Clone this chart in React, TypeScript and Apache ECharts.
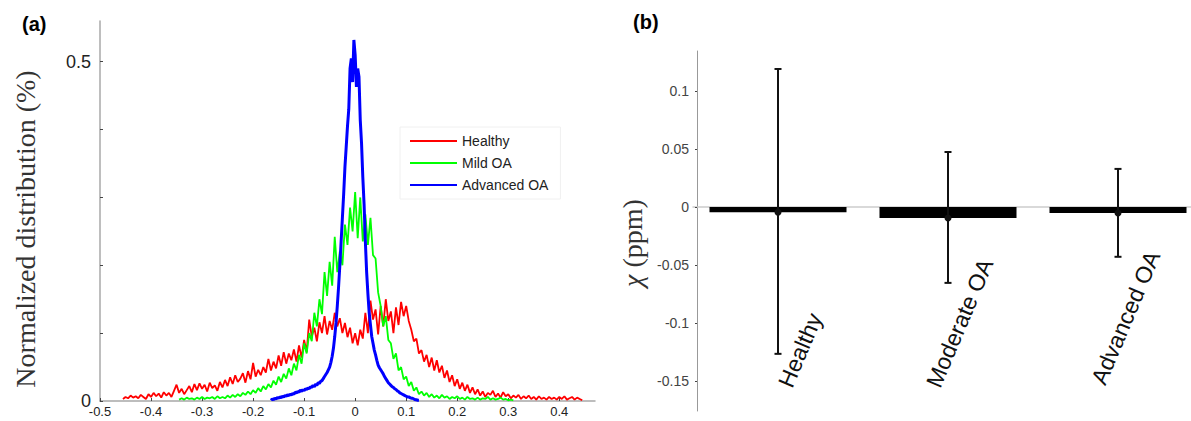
import React, { useEffect, useRef } from 'react';
import * as echarts from 'echarts';

// ---------- Panel (a): normalized susceptibility distributions ----------
const healthyStart = -0.455;
const healthyStep = 0.005;
const healthy = [
  0.003, 0.006, 0.004, 0.008, 0.005, 0.007, 0.004, 0.009, 0.006, 0.003,
  0.01, 0.006, 0.012, 0.007, 0.011, 0.005, 0.013, 0.008, 0.012, 0.006,
  0.015, 0.024, 0.012, 0.018, 0.01, 0.016, 0.022, 0.013, 0.025, 0.016,
  0.026, 0.018, 0.024, 0.014, 0.027, 0.019, 0.023, 0.015, 0.028, 0.02,
  0.031, 0.022, 0.035, 0.025, 0.038, 0.028, 0.033, 0.041, 0.027, 0.044,
  0.032, 0.056, 0.036, 0.046, 0.038, 0.05, 0.042, 0.062, 0.045, 0.058,
  0.048, 0.067, 0.052, 0.072, 0.055, 0.07, 0.06, 0.076, 0.058, 0.082,
  0.064, 0.09, 0.072, 0.12, 0.095, 0.108, 0.088, 0.116, 0.1, 0.125,
  0.098, 0.118, 0.105, 0.13, 0.11, 0.122, 0.1, 0.115, 0.094, 0.108,
  0.085, 0.1, 0.082, 0.105, 0.092, 0.13, 0.1, 0.148, 0.12, 0.135,
  0.098, 0.14, 0.11, 0.15, 0.118, 0.132, 0.1, 0.138, 0.112, 0.146,
  0.125, 0.14, 0.118, 0.105, 0.088, 0.092, 0.07, 0.075, 0.058, 0.068,
  0.05, 0.064, 0.045, 0.06, 0.042, 0.052, 0.034, 0.045, 0.028, 0.038,
  0.022, 0.032, 0.018, 0.027, 0.015, 0.024, 0.012, 0.02, 0.01, 0.017,
  0.008, 0.014, 0.006, 0.012, 0.009, 0.015, 0.006, 0.011, 0.005, 0.013,
  0.007, 0.01, 0.004, 0.008, 0.005, 0.009, 0.003, 0.007, 0.004, 0.008,
  0.003, 0.006, 0.002, 0.007, 0.003, 0.005, 0.002, 0.006, 0.003, 0.005,
  0.002, 0.006, 0.003, 0.007, 0.002, 0.004, 0.006, 0.002, 0.005, 0.003,
  0.001,
];

const mildStart = -0.345;
const mildStep = 0.005;
const mildOA = [
  0.002, 0.004, 0.002, 0.005, 0.003, 0.004, 0.002, 0.005, 0.003, 0.006,
  0.003, 0.005, 0.004, 0.006, 0.003, 0.007, 0.004, 0.006, 0.004, 0.008,
  0.005, 0.009, 0.006, 0.01, 0.007, 0.012, 0.009, 0.014, 0.01, 0.016,
  0.012, 0.019, 0.014, 0.022, 0.017, 0.025, 0.02, 0.03, 0.024, 0.036,
  0.028, 0.04, 0.033, 0.048, 0.038, 0.055, 0.045, 0.068, 0.055, 0.085,
  0.07, 0.1, 0.088, 0.13, 0.11, 0.15, 0.128, 0.19, 0.155, 0.205,
  0.17, 0.242, 0.19, 0.22, 0.2, 0.26, 0.23, 0.285, 0.25, 0.308,
  0.24, 0.3, 0.235, 0.275, 0.23, 0.27, 0.215, 0.21, 0.16, 0.14,
  0.11, 0.125, 0.09, 0.085, 0.062, 0.07, 0.045, 0.05, 0.032, 0.036,
  0.022, 0.028, 0.015, 0.02, 0.01, 0.014, 0.008, 0.012, 0.006, 0.01,
  0.005, 0.008, 0.004, 0.009, 0.005, 0.007, 0.003, 0.006, 0.004, 0.007,
  0.003, 0.005, 0.002, 0.006, 0.003, 0.004, 0.002, 0.005, 0.002, 0.004,
  0.003, 0.006, 0.002, 0.004, 0.002, 0.003, 0.005, 0.002, 0.003, 0.001,
  0.002, 0.001,
];

const advancedStart = -0.165;
const advancedStep = 0.0025;
const advancedOA = [
  0.001, 0.003, 0.002, 0.004, 0.003, 0.005, 0.004, 0.006, 0.005, 0.007,
  0.006, 0.008, 0.007, 0.009, 0.008, 0.01, 0.009, 0.011, 0.01, 0.013,
  0.012, 0.014, 0.013, 0.016, 0.014, 0.017, 0.015, 0.018, 0.017, 0.019,
  0.018, 0.021, 0.02, 0.023, 0.021, 0.025, 0.023, 0.027, 0.026, 0.029,
  0.03, 0.033, 0.036, 0.039, 0.042, 0.046, 0.05, 0.057, 0.066, 0.078,
  0.095, 0.115, 0.14, 0.168, 0.2, 0.235, 0.27, 0.305, 0.345, 0.375,
  0.405, 0.43, 0.49, 0.505, 0.47, 0.532, 0.51, 0.463, 0.49, 0.478,
  0.414, 0.38, 0.33, 0.29, 0.235, 0.19, 0.158, 0.13, 0.112, 0.095,
  0.085, 0.075, 0.068, 0.06, 0.053, 0.049, 0.046, 0.043, 0.04, 0.036,
  0.033, 0.03, 0.027, 0.025, 0.023, 0.021, 0.02, 0.018, 0.017, 0.015,
  0.014, 0.012, 0.011, 0.01, 0.009, 0.008, 0.007, 0.006, 0.006, 0.005,
  0.004, 0.004, 0.003, 0.002, 0.002, 0.001, 0.001,
];

const seriesNames = ['Healthy', 'Mild OA', 'Advanced OA'];

// ---------- Panel (b): mean susceptibility with error bars ----------
const groups = ['Healthy', 'Moderate OA', 'Advanced OA'];
const chiMean = [-0.0045, -0.0095, -0.0052];
const chiLow = [-0.1267, -0.0655, -0.043];
const chiHigh = [0.119, 0.0474, 0.0328];

// rotated category label placement (offset from category centre, baseline-start y)
const labelShiftX = [7, -15, -20];
const labelBaseY = [386, 386, 383];

const SANS = 'Arial, "Liberation Sans", Helvetica, sans-serif';
const SERIF = '"Liberation Serif", "Times New Roman", "DejaVu Serif", serif';

function toPairs(start: number, step: number, vals: number[]) {
  return vals.map((v, i) => [+(start + i * step).toFixed(4), v]);
}

function staticGraphic(): any[] {
  return [
    { id: 'ta', type: 'text', left: 22, top: 14, style: { text: '(a)', fontSize: 20, fontWeight: 'bold', fontFamily: SANS, fill: '#000' } },
    { id: 'tb', type: 'text', left: 633, top: 12, style: { text: '(b)', fontSize: 20, fontWeight: 'bold', fontFamily: SANS, fill: '#000' } },
    {
      id: 'ya',
      type: 'text',
      x: 25,
      y: 229,
      rotation: Math.PI / 2,
      style: {
        text: 'Normalized distribution (%)',
        fontSize: 28,
        fontFamily: SERIF,
        fill: '#333',
        align: 'center',
        verticalAlign: 'middle',
      },
    },
    {
      id: 'yb',
      type: 'text',
      x: 632,
      y: 243,
      rotation: Math.PI / 2,
      style: {
        text: '{i|χ} (ppm)',
        fontSize: 28,
        fontFamily: SERIF,
        fill: '#333',
        align: 'center',
        verticalAlign: 'middle',
        rich: { i: { fontStyle: 'italic', fontSize: 28, fontFamily: SERIF, fill: '#333' } },
      },
    },
  ];
}

function buildOption(): any {
  const errData = groups.map((_, i) => [i, chiLow[i], chiHigh[i], chiMean[i]]);
  return {
    animation: false,
    backgroundColor: '#ffffff',
    textStyle: { fontFamily: SANS },
    legend: {
      data: seriesNames,
      orient: 'vertical',
      left: 400,
      top: 127,
      icon: 'rect',
      itemWidth: 47,
      itemHeight: 2,
      itemGap: 8,
      padding: [7, 12, 7, 10],
      borderColor: '#f0f0f0',
      borderWidth: 1,
      selectedMode: false,
      textStyle: { fontSize: 14, color: '#222', lineHeight: 14, fontFamily: SANS },
    },
    grid: [
      { left: 100, top: 21, width: 495, height: 380, outerBoundsMode: 'none', containLabel: false },
      { left: 693, top: 51, width: 510, height: 360, outerBoundsMode: 'none', containLabel: false },
    ],
    xAxis: [
      {
        gridIndex: 0,
        type: 'value',
        min: -0.5,
        max: 0.47,
        interval: 0.1,
        splitLine: { show: false },
        axisLine: { onZero: false, lineStyle: { color: '#a8a8a8', width: 1.5 } },
        axisTick: { show: true, inside: true, length: 3, lineStyle: { color: '#444' } },
        axisLabel: {
          fontSize: 13,
          color: '#222',
          margin: 4,
          showMaxLabel: false,
          formatter: (v: number) => {
            if (v > 0.45) return '';
            const r = Math.round(v * 10) / 10;
            return r === 0 ? '0' : String(r);
          },
        },
      },
      {
        gridIndex: 1,
        type: 'category',
        data: groups,
        axisLine: { onZero: true, lineStyle: { color: '#cccccc', width: 1.5 } },
        axisTick: { show: false },
        axisLabel: { show: false },
      },
    ],
    yAxis: [
      {
        gridIndex: 0,
        type: 'value',
        min: 0,
        max: 0.56,
        interval: 0.1,
        splitLine: { show: false },
        axisLine: { show: true, onZero: false, lineStyle: { color: '#a8a8a8', width: 1.5 } },
        axisTick: { show: true, inside: true, length: 3, lineStyle: { color: '#444' } },
        axisLabel: {
          fontSize: 18,
          color: '#222',
          margin: 9,
          showMaxLabel: false,
          formatter: (v: number) => (v === 0 ? '0' : Math.abs(v - 0.5) < 1e-9 ? '0.5' : ''),
        },
      },
      {
        gridIndex: 1,
        type: 'value',
        min: -0.176,
        max: 0.1345,
        splitNumber: 6,
        offset: -4,
        splitLine: { show: false },
        axisLine: { show: true, onZero: false, lineStyle: { color: '#999', width: 1 } },
        axisTick: { show: true, length: 2, lineStyle: { color: '#444' } },
        axisLabel: {
          fontSize: 14,
          color: '#444',
          margin: 8,
          showMinLabel: false,
          showMaxLabel: false,
          formatter: (v: number) => {
            if (Math.abs(v * 20 - Math.round(v * 20)) > 1e-6) return '';
            return String(+v.toFixed(2));
          },
        },
      },
    ],
    graphic: staticGraphic(),
    series: [
      {
        name: 'Healthy',
        type: 'line',
        xAxisIndex: 0,
        yAxisIndex: 0,
        data: toPairs(healthyStart, healthyStep, healthy),
        symbol: 'none',
        showSymbol: false,
        color: '#ff0000',
        lineStyle: { color: '#ff0000', width: 1.8 },
        z: 2,
      },
      {
        name: 'Mild OA',
        type: 'line',
        xAxisIndex: 0,
        yAxisIndex: 0,
        data: toPairs(mildStart, mildStep, mildOA),
        symbol: 'none',
        showSymbol: false,
        color: '#00ff00',
        lineStyle: { color: '#00ff00', width: 1.8 },
        z: 3,
      },
      {
        name: 'Advanced OA',
        type: 'line',
        xAxisIndex: 0,
        yAxisIndex: 0,
        data: toPairs(advancedStart, advancedStep, advancedOA),
        symbol: 'none',
        showSymbol: false,
        color: '#0000ff',
        lineStyle: { color: '#0000ff', width: 3 },
        z: 4,
      },
      {
        type: 'bar',
        xAxisIndex: 1,
        yAxisIndex: 1,
        data: chiMean,
        barWidth: 137,
        itemStyle: { color: '#000' },
        z: 2,
      },
      {
        type: 'custom',
        xAxisIndex: 1,
        yAxisIndex: 1,
        data: errData,
        encode: { x: 0, y: [1, 2] },
        z: 5,
        renderItem: (_params: any, api: any) => {
          const x = api.value(0);
          const pLo = api.coord([x, api.value(1)]);
          const pHi = api.coord([x, api.value(2)]);
          const pM = api.coord([x, api.value(3)]);
          const st = { stroke: '#111', lineWidth: 2 };
          return {
            type: 'group',
            children: [
              { type: 'line', shape: { x1: pHi[0], y1: pHi[1], x2: pLo[0], y2: pLo[1] }, style: st },
              { type: 'line', shape: { x1: pHi[0] - 3.5, y1: pHi[1], x2: pHi[0] + 3.5, y2: pHi[1] }, style: st },
              { type: 'line', shape: { x1: pLo[0] - 3.5, y1: pLo[1], x2: pLo[0] + 3.5, y2: pLo[1] }, style: st },
              { type: 'circle', shape: { cx: pM[0], cy: pM[1], r: 3.5 }, style: { fill: '#111' } },
            ],
          };
        },
      },
    ],
  };
}

export default function App() {
  const ref = useRef<HTMLDivElement>(null);
  useEffect(() => {
    document.body.style.margin = '0';
    const chart = echarts.init(ref.current as HTMLDivElement, null, { renderer: 'svg' });
    chart.setOption(buildOption());
    // category labels of panel (b), placed from the category axis scale
    const labels = groups.map((name, i) => {
      const p = chart.convertToPixel({ gridIndex: 1 } as any, [i, 0]) as number[];
      return {
        id: 'cat' + i,
        type: 'text',
        x: p[0] + labelShiftX[i],
        y: labelBaseY[i],
        rotation: (67 * Math.PI) / 180,
        style: {
          text: name,
          fontSize: 23,
          fontFamily: SANS,
          fill: '#111',
          align: 'left',
          verticalAlign: 'middle',
        },
      };
    });
    chart.setOption({ graphic: [...staticGraphic(), ...labels] });
    return () => {
      chart.dispose();
    };
  }, []);
  return (
    <div
      style={{
        position: 'fixed',
        left: 0,
        top: 0,
        width: 1191,
        height: 421,
        overflow: 'hidden',
        background: '#fff',
      }}
    >
      <div ref={ref} style={{ width: 1220, height: 421 }} />
    </div>
  );
}
